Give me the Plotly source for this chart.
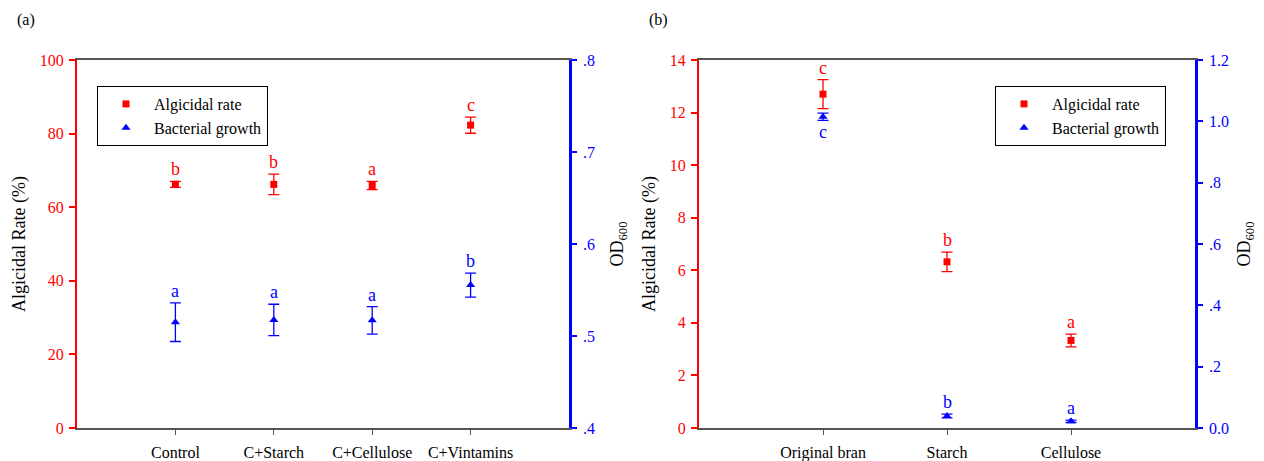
import plotly.graph_objects as go

# ---------------- data ----------------
cats_a = ["Control", "C+Starch", "C+Cellulose", "C+Vintamins"]
alg_a = [66.2, 66.2, 65.9, 82.3]
alg_a_err = [0.8, 2.8, 1.1, 2.2]
alg_a_letters = ["b", "b", "a", "c"]
od_a = [0.515, 0.5175, 0.517, 0.5553]
od_a_err = [0.021, 0.017, 0.015, 0.013]
od_a_letters = ["a", "a", "a", "b"]

cats_b = ["Original bran", "Starch", "Cellulose"]
alg_b = [12.70, 6.32, 3.33]
alg_b_err = [0.55, 0.37, 0.24]
alg_b_letters = ["c", "b", "a"]
od_b = [1.015, 0.039, 0.022]
od_b_err = [0.012, 0.006, 0.004]
od_b_letters = ["c", "b", "a"]

od_a_ticks = [0.4, 0.5, 0.6, 0.7, 0.8]
od_a_ticktext = [".4", ".5", ".6", ".7", ".8"]
od_b_ticks = [0.0, 0.2, 0.4, 0.6, 0.8, 1.0, 1.2]
od_b_ticktext = ["0.0", ".2", ".4", ".6", ".8", "1.0", "1.2"]

RED = "#ff0000"
BLUE = "#0000ff"
AXGRAY = "#555555"
FONT = "Liberation Serif, Times New Roman, serif"

# page body has an 8px margin: the figure starts at (8, 8) of the window
OFF = 8
W, H = 1264 - OFF, 461 - OFF
TOP, BOT = 60 - OFF, 428 - OFF
PH = BOT - TOP

fig = go.Figure()


def px(v):
    return (v - OFF) / W


def py(v):
    return 1 - ((v - OFF) - TOP) / PH


# ---------------- traces ----------------
fig.add_trace(go.Scatter(
    x=cats_a, y=alg_a, mode="markers", name="Algicidal rate",
    marker=dict(symbol="square", size=7, color=RED),
    error_y=dict(type="data", array=alg_a_err, color=RED, thickness=1.3, width=5.5),
    xaxis="x", yaxis="y", legend="legend"))
fig.add_trace(go.Scatter(
    x=cats_a, y=od_a, mode="markers", name="Bacterial growth",
    marker=dict(symbol="triangle-up", size=8, color=BLUE),
    error_y=dict(type="data", array=od_a_err, color=BLUE, thickness=1.3, width=5.5),
    xaxis="x", yaxis="y2", legend="legend"))
fig.add_trace(go.Scatter(
    x=cats_b, y=alg_b, mode="markers", name="Algicidal rate",
    marker=dict(symbol="square", size=7, color=RED),
    error_y=dict(type="data", array=alg_b_err, color=RED, thickness=1.3, width=5.5),
    xaxis="x2", yaxis="y3", legend="legend2"))
fig.add_trace(go.Scatter(
    x=cats_b, y=od_b, mode="markers", name="Bacterial growth",
    marker=dict(symbol="triangle-up", size=8, color=BLUE),
    error_y=dict(type="data", array=od_b_err, color=BLUE, thickness=1.3, width=5.5),
    xaxis="x2", yaxis="y4", legend="legend2"))

# ---------------- letter annotations ----------------
ann = []


def letters(cats, vals, errs, labs, xref, yref, color, above=True):
    for c, v, e, t in zip(cats, vals, errs, labs):
        if above:
            ann.append(dict(x=c, y=v + e, xref=xref, yref=yref, text=t,
                            showarrow=False, xanchor="center", yanchor="bottom", yshift=0,
                            font=dict(family=FONT, size=18, color=color)))
        else:
            ann.append(dict(x=c, y=v - e, xref=xref, yref=yref, text=t,
                            showarrow=False, xanchor="center", yanchor="top", yshift=0,
                            font=dict(family=FONT, size=18, color=color)))


letters(cats_a, alg_a, alg_a_err, alg_a_letters, "x", "y", RED)
letters(cats_a, od_a, od_a_err, od_a_letters, "x", "y2", BLUE)
letters(cats_b, alg_b, alg_b_err, alg_b_letters, "x2", "y3", RED)
letters(cats_b[:1], od_b[:1], od_b_err[:1], od_b_letters[:1], "x2", "y4", BLUE, above=False)
letters(cats_b[1:], od_b[1:], od_b_err[1:], od_b_letters[1:], "x2", "y4", BLUE)

ann.append(dict(x=px(26), y=py(20), xref="paper", yref="paper",
                xanchor="center", yanchor="middle",
                text="(a)", showarrow=False,
                font=dict(family=FONT, size=16, color="black")))
ann.append(dict(x=px(658), y=py(20), xref="paper", yref="paper",
                xanchor="center", yanchor="middle",
                text="(b)", showarrow=False,
                font=dict(family=FONT, size=16, color="black")))

# ---------------- axes ----------------
xa_common = dict(type="category", showline=True, linecolor=AXGRAY, linewidth=1.5,
                 mirror=True, ticks="outside", ticklen=5, tickcolor=AXGRAY,
                 showgrid=False, zeroline=False, ticklabelstandoff=4,
                 tickfont=dict(family=FONT, size=16, color="black"))

fig.update_layout(
    xaxis=dict(domain=[px(77), px(569)], range=[-1, len(cats_a)], anchor="y", **xa_common),
    xaxis2=dict(domain=[px(699), px(1195)], range=[-1, len(cats_b)], anchor="y3", **xa_common),
    yaxis=dict(range=[0, 100], dtick=20, anchor="x", side="left",
               showline=True, linecolor=RED, linewidth=2, ticks="outside",
               ticklen=6, tickcolor=RED, tickwidth=1.5, showgrid=False, zeroline=False,
               ticklabelstandoff=2,
               tickfont=dict(family=FONT, size=16, color=RED),
               title=dict(text="Algicidal Rate (%)", standoff=9,
                          font=dict(family=FONT, size=18, color="black"))),
    yaxis2=dict(range=[0.4, 0.8], tickvals=od_a_ticks, ticktext=od_a_ticktext,
                anchor="x", overlaying="y", side="right",
                showline=True, linecolor=BLUE, linewidth=2.5, ticks="outside",
                ticklen=5, tickcolor=BLUE, tickwidth=1.5, showgrid=False, zeroline=False,
                ticklabelstandoff=3,
                tickfont=dict(family=FONT, size=16, color=BLUE),
                title=dict(text="OD<sub>600</sub>", standoff=17,
                           font=dict(family=FONT, size=18, color="black"))),
    yaxis3=dict(range=[0, 14], dtick=2, anchor="x2", side="left",
                showline=True, linecolor=RED, linewidth=2, ticks="outside",
                ticklen=6, tickcolor=RED, tickwidth=1.5, showgrid=False, zeroline=False,
                ticklabelstandoff=2,
                tickfont=dict(family=FONT, size=16, color=RED),
                title=dict(text="Algicidal Rate (%)", standoff=9,
                           font=dict(family=FONT, size=18, color="black"))),
    yaxis4=dict(range=[0, 1.2], tickvals=od_b_ticks, ticktext=od_b_ticktext,
                anchor="x2", overlaying="y3", side="right",
                showline=True, linecolor=BLUE, linewidth=2.5, ticks="outside",
                ticklen=5, tickcolor=BLUE, tickwidth=1.5, showgrid=False, zeroline=False,
                ticklabelstandoff=3,
                tickfont=dict(family=FONT, size=16, color=BLUE),
                title=dict(text="OD<sub>600</sub>", standoff=10,
                           font=dict(family=FONT, size=18, color="black"))),
    legend=dict(x=px(97), y=py(86), xanchor="left", yanchor="top",
                bordercolor="black", borderwidth=1, bgcolor="white",
                font=dict(family=FONT, size=16, color="black"),
                itemwidth=46, tracegroupgap=0),
    legend2=dict(x=px(995), y=py(86), xanchor="left", yanchor="top",
                 bordercolor="black", borderwidth=1, bgcolor="white",
                 font=dict(family=FONT, size=16, color="black"),
                 itemwidth=46, tracegroupgap=0),
    annotations=ann,
    width=W, height=H,
    margin=dict(l=0, r=0, t=TOP, b=H - BOT, autoexpand=False),
    paper_bgcolor="white", plot_bgcolor="white",
    showlegend=True,
)

fig.write_html("out.html")
